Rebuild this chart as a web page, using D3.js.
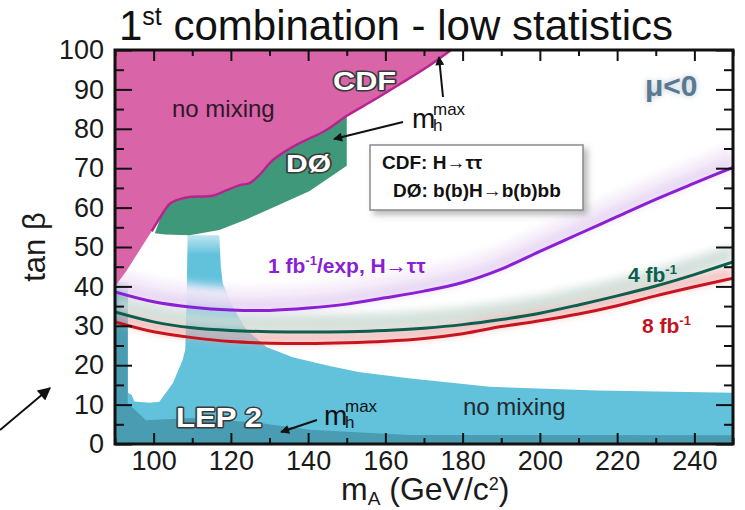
<!DOCTYPE html>
<html>
<head>
<meta charset="utf-8">
<script src="https://cdn.jsdelivr.net/npm/d3@7"></script>
<style>
  body { margin: 0; background: #fff; }
  svg { display: block; font-family: "Liberation Sans", Arial, sans-serif; }
</style>
</head>
<body>
<div id="chart"></div>
<script>
// m_A grid (GeV/c^2) and projected tan(beta) reach curves
const mA = [90, 100, 110, 120, 130, 140, 150, 160, 170, 180, 190, 200, 210, 220, 230, 240, 250];
const reach1fb = [38.6, 36.1, 34.7, 34.0, 33.9, 34.5, 35.5, 37.1, 38.8, 41.0, 44.4, 48.9, 53.3, 57.7, 62.1, 66.2, 70.2];
const reach4fb = [33.5, 31.0, 29.5, 28.8, 28.5, 28.4, 28.5, 28.8, 29.4, 30.3, 31.6, 33.2, 35.3, 37.6, 40.1, 43.0, 46.2];
const reach8fb = [31.0, 28.5, 27.0, 26.0, 25.6, 25.5, 25.7, 26.1, 26.8, 28.0, 29.8, 31.3, 33.0, 35.1, 37.6, 39.9, 42.1];

// excluded regions, [mA, tanB]
const cdfNoMixing = [[90, 40], [93, 44], [96.9, 50], [99.5, 54], [102, 58], [104.2, 61], [107, 62.2], [109.3, 62.7],
  [115.3, 63], [117.9, 64], [122.3, 65.7], [124.8, 66.2], [127.4, 68.3], [130.8, 72], [136, 75.4], [144.7, 79.7],
  [150, 83.3], [157, 87.3], [164, 91.5], [171, 95.8], [177, 100], [90, 100]];
const cdfEdge = cdfNoMixing.slice(3, 21);
const d0Mhmax = [[100.3, 53.5], [102, 58], [104.2, 61], [107, 62.2], [109.3, 62.7], [115.3, 63], [117.9, 64],
  [122.3, 65.7], [124.8, 66.2], [127.4, 68.3], [130.8, 72], [136, 75.4], [144.7, 79.7], [150, 83.3], [150, 70.6],
  [140.4, 64.2], [131.8, 60.4], [124, 57], [117, 54.3], [109.3, 53], [103, 53.2]];
const lepNoMixing = [[90, 0], [90, 41], [93.3, 41], [93.3, 13], [94.3, 12.5], [95, 10.8], [99, 10.5], [101.5, 10.7],
  [105, 15.5], [107.5, 21.3], [108.2, 24], [108.6, 40], [108.8, 53], [117, 53], [117.4, 45], [117.9, 40.8],
  [120.5, 34.8], [124, 29], [129.2, 24.6], [136, 22], [144.7, 20], [153, 18.3], [166, 16.7], [187, 14.5],
  [215, 13.6], [250, 13], [250, 0]];
const lepMhmax = [[90, 0], [90, 41], [93.3, 41], [93.3, 10.4], [98, 6], [110, 6.6], [118.8, 6], [127.4, 5.3],
  [140.4, 3.6], [166, 2.3], [250, 2.2], [250, 0]];

const xTicks = [100, 120, 140, 160, 180, 200, 220, 240];
const xMinor = [90, 110, 130, 150, 170, 190, 210, 230, 250];
const yTicks = [0, 10, 20, 30, 40, 50, 60, 70, 80, 90, 100];
const yMinor = [5, 15, 25, 35, 45, 55, 65, 75, 85, 95];

(function() {
  let w = 745;
  let h = 510;

  let svg = d3.select("#chart").append("svg")
    .attr("width", w)
    .attr("height", h);

  let x = d3.scaleLinear().domain([90, 250]).range([115, 733]);
  let y = d3.scaleLinear().domain([0, 100]).range([444, 50]);

  let defs = svg.append("defs");
  defs.append("clipPath").attr("id", "plotClip")
    .append("rect")
    .attr("x", x(90)).attr("y", y(100))
    .attr("width", x(250) - x(90)).attr("height", y(0) - y(100));

  let blur = defs.append("filter").attr("id", "soft")
    .attr("x", "-10%").attr("y", "-50%").attr("width", "120%").attr("height", "200%");
  blur.append("feGaussianBlur").attr("stdDeviation", 4);

  let glowF = defs.append("filter").attr("id", "glow")
    .attr("x", "-30%").attr("y", "-60%").attr("width", "160%").attr("height", "220%");
  glowF.append("feGaussianBlur").attr("stdDeviation", 3);

  let shadow = defs.append("filter").attr("id", "boxShadow")
    .attr("x", "-10%").attr("y", "-20%").attr("width", "130%").attr("height", "160%");
  shadow.append("feDropShadow").attr("dx", 4).attr("dy", 4).attr("stdDeviation", 3)
    .attr("flood-color", "#888").attr("flood-opacity", 0.6);

  // fade at the top of the LEP spike
  let fade = defs.append("linearGradient").attr("id", "spikeFade")
    .attr("gradientUnits", "userSpaceOnUse")
    .attr("x1", 0).attr("x2", 0).attr("y1", y(54)).attr("y2", y(48));
  fade.append("stop").attr("offset", 0).attr("stop-color", "#fff").attr("stop-opacity", 0.7);
  fade.append("stop").attr("offset", 1).attr("stop-color", "#fff").attr("stop-opacity", 0);

  defs.append("marker").attr("id", "arrow")
    .attr("viewBox", "0 0 10 10").attr("refX", 9).attr("refY", 5)
    .attr("markerWidth", 11).attr("markerHeight", 9)
    .attr("markerUnits", "userSpaceOnUse")
    .attr("orient", "auto")
    .append("path").attr("d", "M0,0 L10,5 L0,10 z").attr("fill", "#111");

  defs.append("marker").attr("id", "bigArrow")
    .attr("viewBox", "0 0 10 10").attr("refX", 9).attr("refY", 5)
    .attr("markerWidth", 16).attr("markerHeight", 13)
    .attr("markerUnits", "userSpaceOnUse")
    .attr("orient", "auto")
    .append("path").attr("d", "M0,0 L10,5 L0,10 z").attr("fill", "#111");

  let region = d3.line().x(d => x(d[0])).y(d => y(d[1]));
  let smoothEdge = d3.line().x(d => x(d[0])).y(d => y(d[1])).curve(d3.curveCatmullRom);

  let plot = svg.append("g").attr("clip-path", "url(#plotClip)");

  // LEP 2 exclusion
  plot.append("path").attr("d", region(lepNoMixing) + "Z").attr("fill", "#62c2dc");
  plot.append("path").attr("d", region(lepMhmax) + "Z").attr("fill", "#4a9cb3");
  plot.append("rect").attr("x", x(108)).attr("y", y(54)).attr("width", x(118) - x(108)).attr("height", y(46) - y(54))
    .attr("fill", "url(#spikeFade)");

  // uncertainty glows around the projected reach curves
  let series = [
    {vals: reach1fb, color: "#8a1fd4", glow: "#f4ecf9", band: 6, op: 0.92},
    {vals: reach4fb, color: "#0b5f4e", glow: "#cddcd6", band: 4.5, op: 0.85},
    {vals: reach8fb, color: "#c8141e", glow: "#eeaaa8", band: 2.6, op: 0.8}
  ];
  let band = d3.area()
    .x(d => x(d[0]))
    .y0(d => y(d[1]))
    .y1(d => y(d[1] + d[2]))
    .curve(d3.curveCatmullRom);

  series.forEach(s => {
    let pts = mA.map((m, i) => [m, s.vals[i], s.band]);
    plot.append("path").attr("d", band(pts))
      .attr("fill", s.glow).attr("opacity", s.op)
      .attr("filter", "url(#soft)");
  });
  // faint lavender haze right along the 1 fb^-1 curve
  plot.append("path").attr("d", band(mA.map((m, i) => [m, reach1fb[i], 2.5])))
    .attr("fill", "#dcc2ee").attr("opacity", 0.6).attr("filter", "url(#soft)");

  // Tevatron exclusions
  plot.append("path").attr("d", region(d0Mhmax) + "Z").attr("fill", "#3f9879");
  plot.append("path").attr("d", region(cdfNoMixing) + "Z").attr("fill", "#d965a8");
  plot.append("path").attr("d", smoothEdge(cdfEdge))
    .attr("fill", "none").attr("stroke", "#b8238f").attr("stroke-width", 2.5);

  let curve = d3.line().x(d => x(d[0])).y(d => y(d[1])).curve(d3.curveCatmullRom);
  series.forEach(s => {
    plot.append("path").attr("d", curve(mA.map((m, i) => [m, s.vals[i]])))
      .attr("fill", "none").attr("stroke", s.color).attr("stroke-width", 3);
  });

  // axes: ticks point inward on all four sides
  function ticks(axis, pos) {
    let g = svg.append("g").attr("transform", pos).call(axis);
    g.select(".domain").remove();
    g.selectAll("line").attr("stroke", "#111").attr("stroke-width", 2);
    g.selectAll("text").remove();
    return g;
  }
  ticks(d3.axisBottom(x).tickValues(xTicks).tickSize(-11), `translate(0,${y(0)})`);
  ticks(d3.axisBottom(x).tickValues(xMinor).tickSize(-6), `translate(0,${y(0)})`);
  ticks(d3.axisTop(x).tickValues(xTicks).tickSize(-11), `translate(0,${y(100)})`);
  ticks(d3.axisTop(x).tickValues(xMinor).tickSize(-6), `translate(0,${y(100)})`);
  ticks(d3.axisLeft(y).tickValues(yTicks).tickSize(-17), `translate(${x(90)},0)`);
  ticks(d3.axisLeft(y).tickValues(yMinor).tickSize(-9), `translate(${x(90)},0)`);
  ticks(d3.axisRight(y).tickValues(yTicks).tickSize(-17), `translate(${x(250)},0)`);
  ticks(d3.axisRight(y).tickValues(yMinor).tickSize(-9), `translate(${x(250)},0)`);

  let xl = svg.append("g").attr("transform", `translate(0,${y(0)})`)
    .call(d3.axisBottom(x).tickValues(xTicks).tickSize(0).tickPadding(7));
  xl.select(".domain").remove();
  xl.selectAll("text").attr("font-size", 27).attr("fill", "#1a1a1a")
    .attr("font-family", "Liberation Sans, Arial, sans-serif");

  let yl = svg.append("g").attr("transform", `translate(${x(90)},0)`)
    .call(d3.axisLeft(y).tickValues(yTicks).tickSize(0).tickPadding(11));
  yl.select(".domain").remove();
  yl.selectAll("text").attr("font-size", 27).attr("fill", "#1a1a1a")
    .attr("font-family", "Liberation Sans, Arial, sans-serif");

  svg.append("rect")
    .attr("x", x(90)).attr("y", y(100))
    .attr("width", x(250) - x(90)).attr("height", y(0) - y(100))
    .attr("fill", "none").attr("stroke", "#111").attr("stroke-width", 3);

  // title and axis labels
  let title = svg.append("text").attr("x", 119).attr("y", 40)
    .attr("font-size", 42).attr("fill", "#111");
  title.append("tspan").text("1");
  title.append("tspan").attr("font-size", 25).attr("dy", -15).text("st");
  title.append("tspan").attr("dy", 15).text(" combination - low statistics");

  let xt = svg.append("text").attr("x", 341).attr("y", 500)
    .attr("font-size", 32).attr("fill", "#1a1a1a");
  xt.append("tspan").text("m");
  xt.append("tspan").attr("font-size", 19).attr("dy", 5).text("A");
  xt.append("tspan").attr("dy", -5).text(" (GeV/c");
  xt.append("tspan").attr("font-size", 18).attr("dy", -10).text("2");
  xt.append("tspan").attr("dy", 10).text(")");

  svg.append("text")
    .attr("transform", `translate(45,247) rotate(-90)`)
    .attr("text-anchor", "middle")
    .attr("font-size", 31).attr("fill", "#1a1a1a")
    .text("tan β");

  // region labels
  function plain(tx, ty, str, size, color) {
    return svg.append("text").attr("x", tx).attr("y", ty)
      .attr("font-size", size).attr("fill", color).text(str);
  }
  plain(172, 117, "no mixing", 24, "#2d1828");
  plain(463, 415, "no mixing", 24, "#1f2a30");

  function outlined(tx, ty, str, size, len) {
    svg.append("text").attr("x", tx).attr("y", ty)
      .attr("font-size", size).attr("font-weight", "bold")
      .attr("textLength", len).attr("lengthAdjust", "spacingAndGlyphs")
      .attr("fill", "#fff").attr("stroke", "#3a3a3a").attr("stroke-width", 3)
      .attr("paint-order", "stroke").attr("stroke-linejoin", "round")
      .text(str);
  }
  outlined(333, 90, "CDF", 25, 63);
  outlined(286, 172, "DØ", 24, 45);
  outlined(176, 427, "LEP 2", 28, 86);

  function mhmax(tx, ty) {
    let t = svg.append("text").attr("x", tx).attr("y", ty).attr("fill", "#111");
    t.append("tspan").attr("font-size", 28).text("m");
    t.append("tspan").attr("font-size", 17).attr("x", tx + 21).attr("dy", -13).text("max");
    t.append("tspan").attr("font-size", 17).attr("x", tx + 21).attr("dy", 16).text("h");
  }
  mhmax(412, 128);
  mhmax(324, 425);

  function arrow(x1, y1, x2, y2, mk, sw) {
    svg.append("line").attr("x1", x1).attr("y1", y1).attr("x2", x2).attr("y2", y2)
      .attr("stroke", "#111").attr("stroke-width", sw)
      .attr("marker-end", `url(#${mk})`);
  }
  arrow(403, 122, 334, 139, "arrow", 2);
  arrow(443, 97, 439, 57, "arrow", 2);
  arrow(317, 420, 281, 432, "arrow", 2);
  arrow(0, 430, 50, 388, "bigArrow", 2);

  // legend box
  svg.append("rect").attr("x", 370).attr("y", 145).attr("width", 213).attr("height", 65)
    .attr("fill", "#fff").attr("stroke", "#8a8a8a").attr("stroke-width", 1.5)
    .attr("filter", "url(#boxShadow)");
  plain(382, 169, "CDF: H\u2192\u03c4\u03c4", 19, "#111").attr("font-weight", "bold");
  plain(393, 197, "DØ: b(b)H\u2192b(b)bb", 19, "#111").attr("font-weight", "bold");

  // sign of mu
  svg.append("text").attr("x", 645).attr("y", 96)
    .attr("font-size", 30).attr("font-weight", "bold").attr("fill", "#8aa3b6")
    .attr("opacity", 0.6).attr("filter", "url(#glow)").text("μ<0");
  plain(645, 96, "μ<0", 30, "#5a7890").attr("font-weight", "bold");

  // curve labels
  function lumi(tx, ty, pre, post, color) {
    let t = svg.append("text").attr("x", tx).attr("y", ty)
      .attr("font-size", 21).attr("font-weight", "bold").attr("fill", color);
    t.append("tspan").text(pre);
    t.append("tspan").attr("font-size", 13).attr("dy", -8).text("-1");
    t.append("tspan").attr("dy", 8).text(post);
    return t;
  }
  lumi(268, 273, "1 fb", "/exp, H\u2192\u03c4\u03c4", "#8a1fd4");
  lumi(628, 282, "4 fb", "", "#0b5f4e");
  lumi(642, 333, "8 fb", "", "#c0141e");
})();
</script>
</body>
</html>
